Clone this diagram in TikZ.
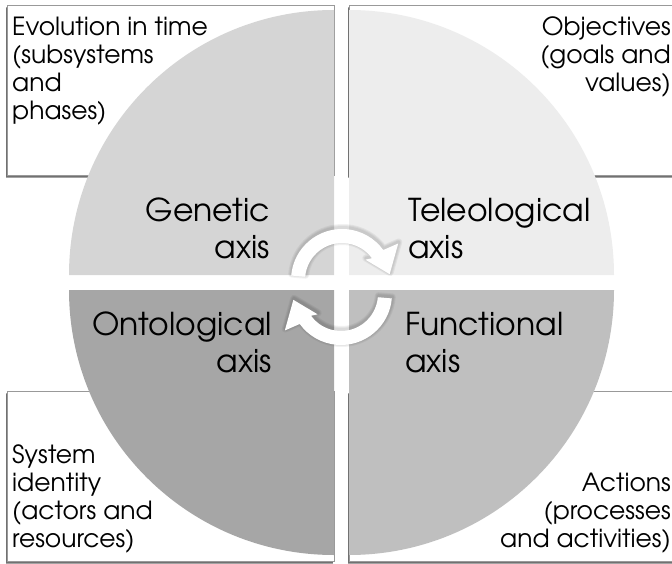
\documentclass[tikz,border=0pt]{standalone}
\usepackage{fontspec}
\setmainfont{TeX Gyre Adventor}
\usetikzlibrary{shadows}
\definecolor{qGen}{gray}{0.835}
\definecolor{qTel}{gray}{0.928}
\definecolor{qOnt}{gray}{0.65}
\definecolor{qFun}{gray}{0.75}
\definecolor{rim}{gray}{0.6}
\newcommand\colL[1]{\begin{tabular}[t]{@{}l@{}}#1\end{tabular}}
\newcommand\colR[1]{\begin{tabular}[t]{@{}r@{}}#1\end{tabular}}
% one circular arrow, drawn around the origin in math orientation
\newcommand\cyclepath{(175:51) arc[start angle=175, end angle=36, radius=51]
    -- (33:67) -- (7:48) -- (41:31) -- (36:37) arc[start angle=36, end angle=175, radius=37] -- cycle}
\begin{document}
\begin{tikzpicture}[x=1pt,y=-1pt,
  panel/.style={draw=rim, line width=0.8pt, fill=white, inner sep=0pt,
    double copy shadow={shadow xshift=-0.6pt, shadow yshift=-1.6pt, opacity=0.45, fill=black!80, draw=none}},
  note/.style={inner sep=0pt, font=\fontsize{25}{28}\selectfont},
  axislabel/.style={inner sep=0pt, font=\fontsize{31.5}{37}\selectfont},
  arrowhalo/.style={draw=black, line join=round, opacity=0.05},
  cyclearrow/.style={fill=white}]
\useasboundingbox (0,0) rectangle (672,564);
\clip (0,0) rectangle (672,564);

% corner panels behind the disc
\node[panel, minimum width=327pt, minimum height=170pt] (pGen) at (170.5,90) {};
\node[panel, minimum width=340pt, minimum height=170pt] (pTel) at (519,90) {};
\node[panel, minimum width=327pt, minimum height=170pt] (pOnt) at (170.5,476) {};
\node[panel, minimum width=340pt, minimum height=170pt] (pFun) at (519,476) {};

% four quarter discs
\fill[qGen] (334,275) -- ++(-265,0) arc[start angle=180, end angle=270, radius=265] -- cycle;
\fill[qTel] (349,275) -- ++(0,-265) arc[start angle=270, end angle=360, radius=265] -- cycle;
\fill[qOnt] (334,290) -- ++(-265,0) arc[start angle=180, end angle=90, radius=265] -- cycle;
\fill[qFun] (349,290) -- ++(265,0) arc[start angle=0, end angle=90, radius=265] -- cycle;

% circular arrows in the middle, with a soft shadow
\begin{scope}[shift={(342,280)}, yscale=-1]
  \foreach \w in {7,5,3}
    \draw[arrowhalo, line width=\w pt, shift={(0.5pt,-1.5pt)}] \cyclepath;
  \fill[cyclearrow] \cyclepath;
\end{scope}
\begin{scope}[shift={(341,294)}, yscale=-1, rotate=180]
  \foreach \w in {7,5,3}
    \draw[arrowhalo, line width=\w pt, shift={(-0.5pt,1.5pt)}] \cyclepath;
  \fill[cyclearrow] \cyclepath;
\end{scope}

% axis labels
\node[axislabel, anchor=base east] (tGen) at (270,222) {\colR{Genetic\\axis}};
\node[axislabel, anchor=base west] (tTel) at (408,222) {\colL{Teleological\\axis}};
\node[axislabel, anchor=base east] (tOnt) at (272,335) {\colR{Ontological\\axis}};
\node[axislabel, anchor=base west] (tFun) at (405,335) {\colL{Functional\\axis}};

% panel notes
\node[note, anchor=base west] (nGen) at (12,36) {\colL{Evolution in time\\(subsystems\\and\\phases)}};
\node[note, anchor=base east] (nTel) at (671,36) {\colR{Objectives\\(goals and\\values)}};
\node[note, anchor=base west] (nOnt) at (12,463) {\colL{System\\identity\\(actors and\\resources)}};
\node[note, anchor=base east] (nFun) at (671,491) {\colR{Actions\\(processes\\and activities)}};
\end{tikzpicture}
\end{document}
